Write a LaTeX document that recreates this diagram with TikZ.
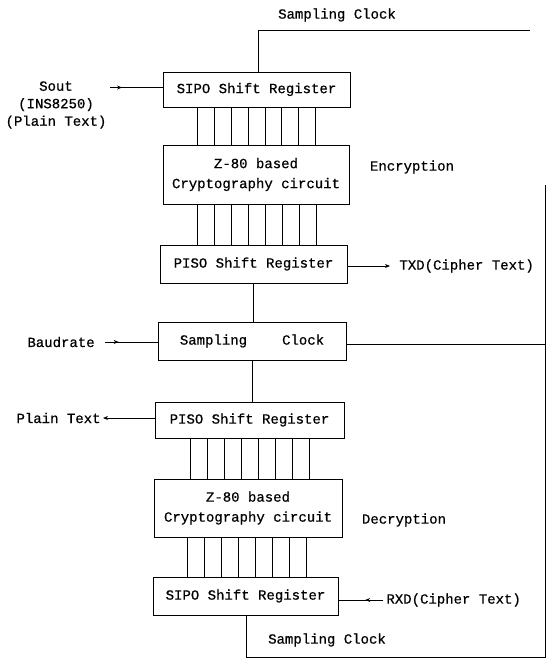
\documentclass[tikz,border=0pt]{standalone}
\usepackage{fontspec}
\setmainfont{Liberation Mono}[FakeBold=0.6,BoldFont=*]
\usetikzlibrary{arrows.meta,decorations.markings}
\begin{document}
\begin{tikzpicture}[x=1pt,y=-1pt,line width=0.9pt,
  every node/.style={font=\fontsize{14}{20}\selectfont\bfseries},
  blk/.style={draw,rectangle,inner sep=0pt,align=center},
  lbl/.style={inner sep=0pt,align=center},
  tipend/.style={-{Stealth[length=5pt,width=4pt]}},
  midtip/.style={postaction={decorate},decoration={markings,
     mark=at position #1 with {\arrow{Stealth[length=5pt,width=4pt]}}}}]
\useasboundingbox (0,0) rectangle (548,661);

% encryption chain
\node[blk,minimum width=187pt,minimum height=35pt] (sipoA) at (256.5,89.5) {SIPO Shift Register};
\node[blk,minimum width=186pt,minimum height=59pt] (cryA) at (256,174.5) {Z-80 based\\Cryptography circuit};
\node[blk,minimum width=187pt,minimum height=38pt] (pisoA) at (253.5,264) {PISO Shift Register};
% shared clock
\node[blk,minimum width=188pt,minimum height=38pt] (clk) at (252,341) {Sampling\hspace{2.5em}Clock};
% decryption chain
\node[blk,minimum width=189pt,minimum height=36pt] (pisoB) at (249.5,420) {PISO Shift Register};
\node[blk,minimum width=188pt,minimum height=58pt] (cryB) at (248,508) {Z-80 based\\Cryptography circuit};
\node[blk,minimum width=185pt,minimum height=38pt] (sipoB) at (245.5,596) {SIPO Shift Register};

% labels
\node[lbl] (clkTop) at (337,15) {Sampling Clock};
\node[lbl,font=\fontsize{14}{17.5}\selectfont\bfseries] (sout) at (56,105) {Sout\\(INS8250)\\(Plain Text)};
\node[lbl] (enc) at (412,167) {Encryption};
\node[lbl,anchor=west] (txd) at (399,266) {TXD(Cipher Text)};
\node[lbl,anchor=west] (baud) at (27,342) {Baudrate};
\node[lbl,anchor=east] (plain) at (101,418) {Plain Text};
\node[lbl] (dec) at (404,520) {Decryption};
\node[lbl,anchor=west] (rxd) at (386,600) {RXD(Cipher Text)};
\node[lbl] (clkBot) at (327,640) {Sampling Clock};

% free ends of the wires
\coordinate (soutS) at (110,87.5);
\coordinate (baudS) at (105,342);
\coordinate (plainE) at (103,418);
\coordinate (txdE) at (390,266);
\coordinate (rxdS) at (383,600);
\coordinate (topTurn) at (258,30);
\coordinate (topEnd) at (530,30);
\coordinate (railTop) at (545,185);
\coordinate (botTurn) at (246,657);
\coordinate (railBot) at (545,657);

% 8-bit parallel buses
\foreach \i in {0,...,7}{
  \draw ([xshift={(\i-3.5)*16.9pt}]sipoA.south) -- ([xshift={(\i-3.5)*16.9pt}]sipoA.south |- cryA.north);
  \draw ([xshift={(\i-3.5)*16.9pt+1pt}]cryA.south) -- ([xshift={(\i-3.5)*16.9pt+1pt}]cryA.south |- pisoA.north);
  \draw ([xshift={(\i-3.5)*16.9pt+0.5pt}]pisoB.south) -- ([xshift={(\i-3.5)*16.9pt+0.5pt}]pisoB.south |- cryB.north);
  \draw ([xshift={(\i-3.5)*16.9pt-1pt}]cryB.south) -- ([xshift={(\i-3.5)*16.9pt-1pt}]cryB.south |- sipoB.north);
}

% serial links
\draw[midtip=0.23] (soutS) -- (soutS -| sipoA.west);
\draw[tipend] (pisoA.east |- txdE) -- (txdE);
\draw (pisoA.south -| 253,0) -- (clk.north -| 253,0);
\draw[midtip=0.26] (baudS) -- (baudS -| clk.west);
\draw (clk.south -| 252,0) -- (pisoB.north -| 252,0);
\draw[tipend] (pisoB.west |- plainE) -- (plainE);
\draw[midtip=0.4] (rxdS) -- (rxdS -| sipoB.east);

% sampling clock distribution
\draw (sipoA.north -| topTurn) -- (topTurn) -- (topEnd);
\draw (clk.east |- 0,344) -- (railTop |- 0,344);
\draw (sipoB.south -| botTurn) -- (botTurn) -- (railBot) -- (railTop);
\end{tikzpicture}
\end{document}
